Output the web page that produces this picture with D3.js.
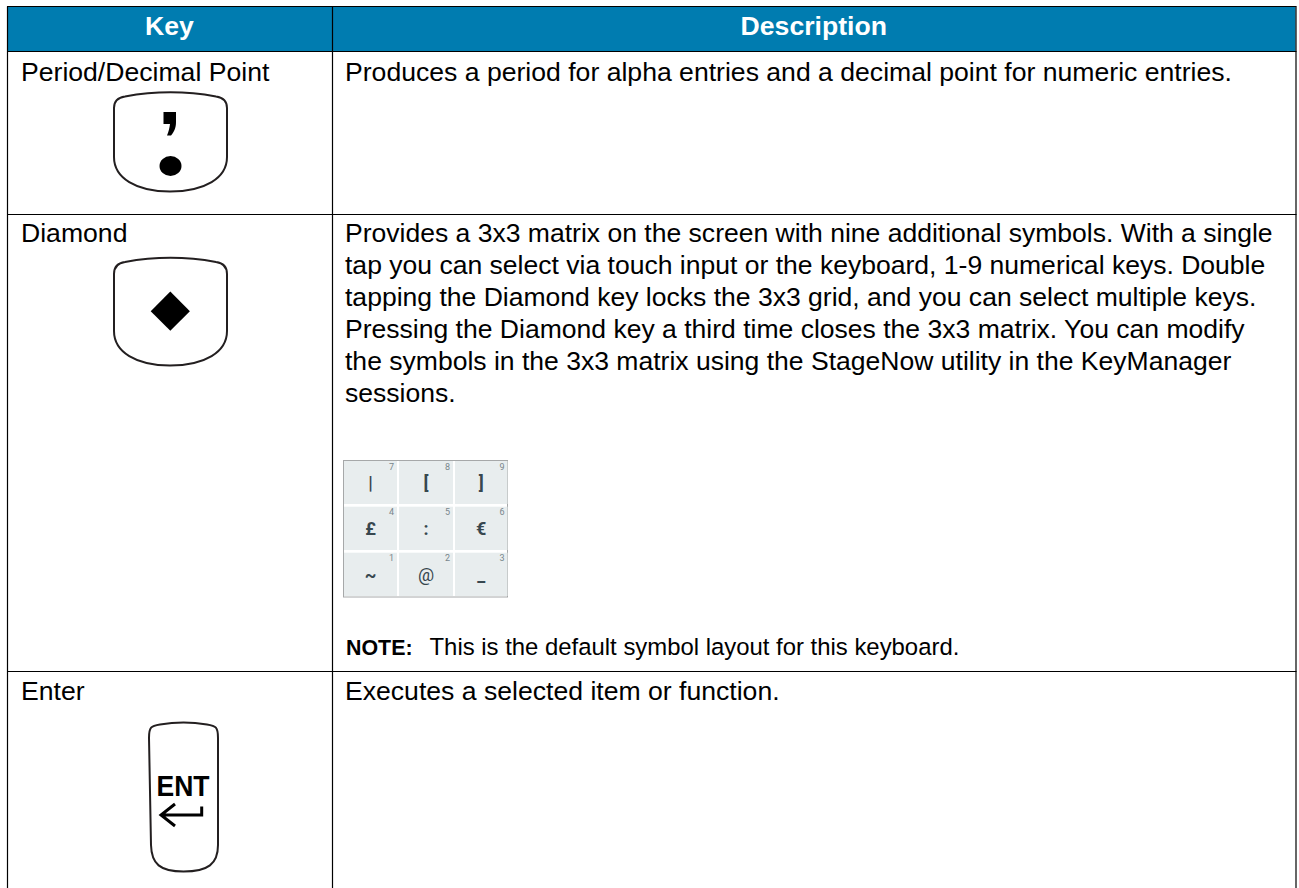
<!DOCTYPE html>
<html><head><meta charset="utf-8">
<script src="https://cdnjs.cloudflare.com/ajax/libs/d3/7.8.5/d3.min.js"></script>
<style>html,body{margin:0;background:#fff;overflow:hidden}svg{display:block}text{font-family:"Liberation Sans",Arial,sans-serif}</style>
</head><body><svg id="c" width="1299" height="888"></svg>
<script>
const headers = ["Key","Description"];
const keyNames = ["Period/Decimal Point","Diamond","Enter"];
const descPeriod = ["Produces a period for alpha entries and a decimal point for numeric entries."];
const descDiamond = [
"Provides a 3x3 matrix on the screen with nine additional symbols. With a single",
"tap you can select via touch input or the keyboard, 1-9 numerical keys. Double",
"tapping the Diamond key locks the 3x3 grid, and you can select multiple keys.",
"Pressing the Diamond key a third time closes the 3x3 matrix. You can modify",
"the symbols in the 3x3 matrix using the StageNow utility in the KeyManager",
"sessions."];
const descEnter = ["Executes a selected item or function."];
const noteLabel = "NOTE:";
const noteText = "This is the default symbol layout for this keyboard.";
const gridSymbols = ["|","[","]","£",":","€","~","@","_"];
const gridNumbers = ["7","8","9","4","5","6","1","2","3"];

const svg = d3.select("#c");
const BLUE="#007cb0", INK="#000";
const colX=[7,332,1295.5], rowY=[6.5,51.5,214.5,671.5,888];

svg.append("rect").attr("x",colX[0]).attr("y",rowY[0]).attr("width",colX[2]-colX[0]).attr("height",rowY[1]-rowY[0]).attr("fill",BLUE);
rowY.slice(0,4).forEach(y=>svg.append("line").attr("x1",colX[0]).attr("x2",colX[2]+1).attr("y1",y).attr("y2",y).attr("stroke",INK).attr("stroke-width",1.2));
colX.forEach(x=>svg.append("line").attr("x1",x+.5).attr("x2",x+.5).attr("y1",rowY[0]).attr("y2",888).attr("stroke",INK).attr("stroke-width",1.2));

const txt=(x,y,s,size,o={})=>svg.append("text").attr("x",x).attr("y",y).text(s).attr("font-size",size)
  .attr("fill",o.fill||INK).attr("font-weight",o.w||"normal").attr("text-anchor",o.a||"start");

const F=26.6;
headers.forEach((h,i)=>txt((colX[i]+colX[i+1])/2,35,h,F,{fill:"#fff",w:"bold",a:"middle"}));
[80.5,242,699.5].forEach((y,i)=>txt(21,y,keyNames[i],F));

descPeriod.forEach((l)=>txt(345,80.5,l,F));
descDiamond.forEach((l,i)=>txt(345,242+i*31.9,l,26.54));
descEnter.forEach((l)=>txt(345,699.5,l,F));
txt(346,654.5,noteLabel,21.4,{w:"bold"});
txt(429.5,654.5,noteText,23.9);

// key caps
const cap=(d)=>svg.append("path").attr("d",d).attr("fill","#fff").attr("stroke","#231f20").attr("stroke-width",2);
cap("M114,108 C114,101 118,97.5 125,96.5 C155,91 186,91 216,96.5 C223,97.5 227,101 227,108 L227,157 C227,178 205,191.5 170,191.5 C136,191.5 114,178 114,157 Z");
svg.append("path").attr("d","M163.5,112 H176 V122 C176,128 174,132 171,135.5 L167,135.5 C168.5,132 169.5,128 170,124 H163.5 Z").attr("fill",INK);
svg.append("ellipse").attr("cx",170.5).attr("cy",166).attr("rx",11).attr("ry",10).attr("fill",INK);

cap("M114,274 C114,267 118,263 125,262 C155,256.5 186,256.5 216,262 C223,263 227,267 227,274 L227,331 C227,352 205,365.5 170,365.5 C136,365.5 114,352 114,331 Z");
svg.append("path").attr("d",d3.symbol(d3.symbolSquare,768)()).attr("transform","translate(170.3,311.2) rotate(45)").attr("fill",INK);

cap("M149,738 C149,727 151,726 160,724.5 C175,722 192,722 207,724.5 C216,726 218,727 218,738 L218,845 C218,864 208,871.5 183.5,871.5 C160,871.5 151.5,864 151,845 Z");
txt(183,796,"ENT",29,{w:"bold",a:"middle"}).attr("textLength",53).attr("lengthAdjust","spacingAndGlyphs");
svg.append("path").attr("d","M201.7,806.5 V815 H161 M175,804 L161,815 L175,826").attr("fill","none").attr("stroke",INK).attr("stroke-width",3);

// symbol grid
const cellX=[344,399,455], cellW=[53,54,52.5];
const cellY=[461,506.7,552.7], cellH=[43,43.3,43.3];
svg.append("rect").attr("x",343.5).attr("y",460.5).attr("width",164).attr("height",136.5).attr("fill","#fff").attr("stroke","#a6a8a9");
gridSymbols.forEach((s,i)=>{
  const c=i%3,r=Math.floor(i/3),x=cellX[c],y=cellY[r],w=cellW[c],h=cellH[r];
  svg.append("rect").attr("x",x).attr("y",y).attr("width",w).attr("height",h).attr("fill","#e8edee");
  svg.append("text").attr("x",x+w/2).attr("y",y+28).attr("text-anchor","middle").attr("font-size",18).attr("font-weight",s=="@"?"normal":"bold").attr("fill","#37474f").style("font-family","Roboto").text(s);
  svg.append("text").attr("x",x+w-3).attr("y",y+8.5).attr("text-anchor","end").attr("font-size",9).attr("fill","#78868c").style("font-family","Roboto").text(gridNumbers[i]);
});
</script></body></html>
